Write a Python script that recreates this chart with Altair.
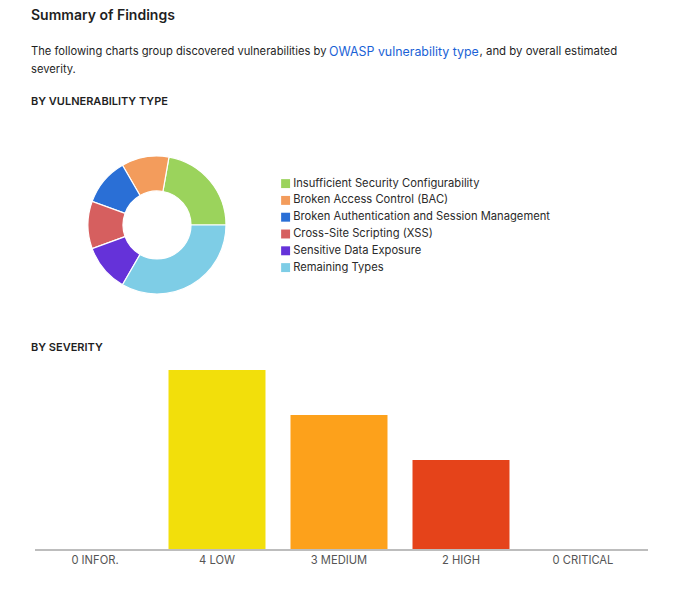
import altair as alt
import pandas as pd
import math

# ---------------- data ----------------
vuln_types = [
    "Insufficient Security Configurability",
    "Broken Access Control (BAC)",
    "Broken Authentication and Session Management",
    "Cross-Site Scripting (XSS)",
    "Sensitive Data Exposure",
    "Remaining Types",
]
vuln_counts = [2, 1, 1, 1, 1, 3]
vuln_colors = ["#9bd35c", "#f39c5c", "#2a6fd6", "#d65f5f", "#6532d9", "#7ecde6"]

sev_levels = ["INFOR.", "LOW", "MEDIUM", "HIGH", "CRITICAL"]
sev_counts = [0, 4, 3, 2, 0]
sev_colors = ["#cccccc", "#f2df0b", "#fda11b", "#e5431a", "#b00020"]

FONT = "Inter"
TXT = "#1f1f1f"

vuln_df = pd.DataFrame({
    "type": vuln_types,
    "count": vuln_counts,
    "ord": list(range(len(vuln_types), 0, -1)),
})
sev_df = pd.DataFrame({
    "level": sev_levels,
    "count": sev_counts,
    "color": sev_colors,
    "label": [f"{c} {l}" for c, l in zip(sev_counts, sev_levels)],
})


def text_layer(t, x, y, size, weight="normal", color=TXT):
    return alt.Chart(pd.DataFrame({"t": [t]})).mark_text(
        align="left", baseline="middle", font=FONT, fontSize=size,
        fontWeight=weight, color=color,
    ).encode(text="t:N", x=alt.value(x), y=alt.value(y))


header = [
    text_layer("Summary of Findings", 31, 16, 14, weight=600),
    text_layer("The following charts group discovered vulnerabilities by ", 31, 52, 11.2),
    text_layer("OWASP vulnerability type", 329, 52, 12.4, color="#1a62d6"),
    text_layer(", and by overall estimated", 479.5, 52, 11.4),
    text_layer("severity.", 31, 70, 11.2),
    text_layer("BY VULNERABILITY TYPE", 31, 102, 11, weight=600),
    text_layer("BY SEVERITY", 31, 348, 11, weight=600),
]

donut = alt.Chart(vuln_df).mark_arc(
    outerRadius=69, innerRadius=34, stroke="white", strokeWidth=1.2,
).encode(
    x=alt.value(157),
    y=alt.value(225),
    theta=alt.Theta("count:Q", stack=True,
                    scale=alt.Scale(range=[math.pi / 2, math.pi / 2 + 2 * math.pi])),
    order=alt.Order("ord:Q"),
    color=alt.Color(
        "type:N",
        scale=alt.Scale(domain=vuln_types, range=vuln_colors),
        legend=alt.Legend(
            title=None, orient="none", legendX=280, legendY=178,
            symbolType="square", symbolSize=80, symbolStrokeWidth=0,
            labelFont=FONT, labelFontSize=11.2, labelColor="#2a2a2a",
            rowPadding=4.8, labelOffset=2, labelLimit=400,
        ),
    ),
)

bars = alt.Chart(sev_df).mark_bar().encode(
    x=alt.X("level:N", sort=sev_levels,
            scale=alt.Scale(domain=sev_levels, range=[34, 644],
                            paddingInner=0.205, paddingOuter=0.1025),
            axis=None),
    y=alt.Y("count:Q", scale=alt.Scale(domain=[0, 4], range=[550, 370]), axis=None),
    color=alt.Color("color:N", scale=None),
)

base_line = alt.Chart(sev_df).mark_rule(color="#bdbdbd", strokeWidth=2).encode(
    x=alt.value(35), x2=alt.value(648), y=alt.value(550),
)

labels = alt.Chart(sev_df).mark_text(
    font=FONT, fontSize=11.2, color="#555555", baseline="middle",
).encode(
    x=alt.X("level:N", sort=sev_levels),
    y=alt.value(561),
    text="label:N",
)

chart = alt.layer(*header, donut, bars, base_line, labels).resolve_scale(
    color="independent"
).properties(
    width=680, height=591,
    autosize=alt.AutoSizeParams(type="none"),
    padding=0,
).configure_view(stroke=None)

chart.save("out.html", embed_options={"renderer": "svg", "actions": False})
